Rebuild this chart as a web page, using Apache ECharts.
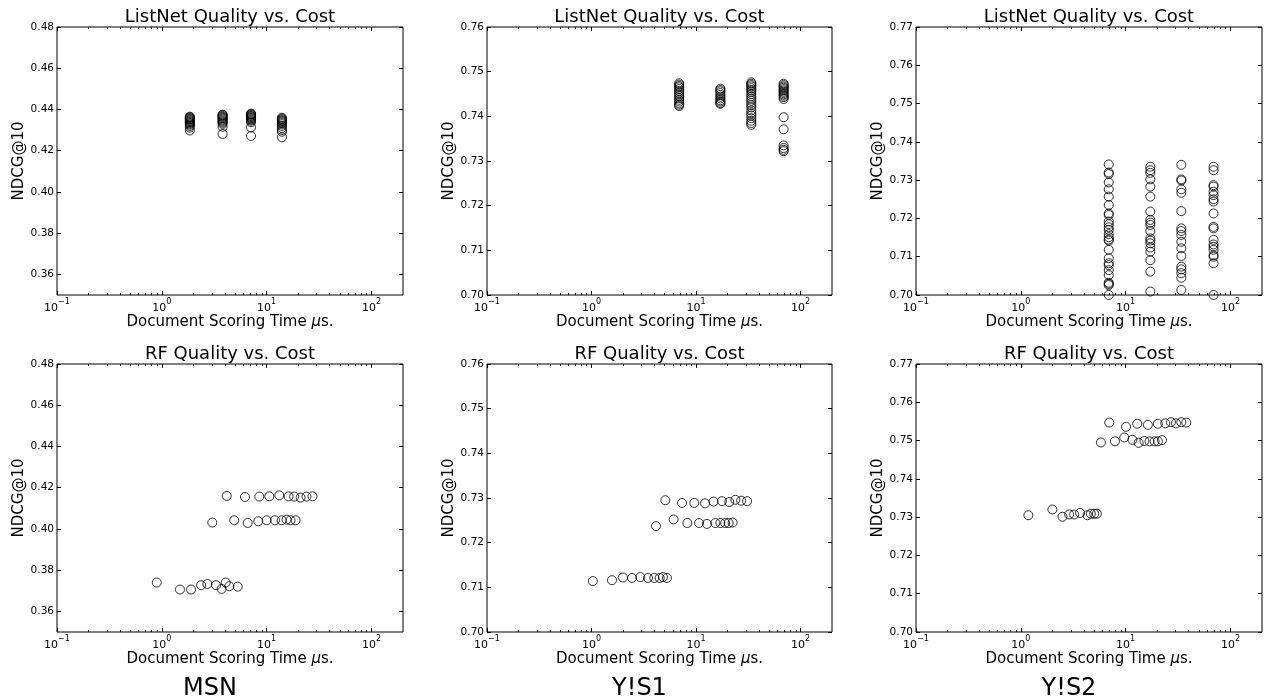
<!DOCTYPE html>
<html>
<head>
<meta charset="utf-8">
<script src="https://cdn.jsdelivr.net/npm/echarts@6/dist/echarts.min.js"></script>
<style>
html, body { margin: 0; padding: 0; background: #fff; }
#main { width: 1266px; height: 700px; }
</style>
</head>
<body>
<div id="main"></div>
<script>
// NDCG@10 against document scoring time (microseconds)

// ListNet: one column of runs per model size
var msnListNetX = [1.85, 3.8, 7.1, 14];
var msnListNetY = [
    [0.4365, 0.4362, 0.4358, 0.4355, 0.4351, 0.4347, 0.4343, 0.4339, 0.4335, 0.4331, 0.4326, 0.4320, 0.4312, 0.4298],
    [0.4375, 0.4372, 0.4368, 0.4364, 0.4360, 0.4356, 0.4351, 0.4346, 0.4341, 0.4336, 0.4330, 0.4316, 0.4281],
    [0.4380, 0.4377, 0.4374, 0.4370, 0.4367, 0.4363, 0.4359, 0.4355, 0.4350, 0.4345, 0.4338, 0.4313, 0.4271],
    [0.4360, 0.4356, 0.4352, 0.4348, 0.4344, 0.4339, 0.4334, 0.4328, 0.4320, 0.4310, 0.4300, 0.4292, 0.4265]
];

var ys1ListNetX = [6.9, 17.1, 33.8, 68.9];
var ys1ListNetY = [
    [0.7474, 0.7471, 0.7468, 0.7465, 0.7461, 0.7457, 0.7453, 0.7449, 0.7445, 0.7441, 0.7437, 0.7433, 0.7429, 0.7426, 0.7423],
    [0.7462, 0.7459, 0.7456, 0.7452, 0.7448, 0.7444, 0.7440, 0.7436, 0.7433, 0.7430, 0.7428],
    [0.7476, 0.7473, 0.7470, 0.7467, 0.7463, 0.7459, 0.7455, 0.7450, 0.7445, 0.7440, 0.7435, 0.7430, 0.7425, 0.7420, 0.7413, 0.7407, 0.7402, 0.7396, 0.7390, 0.7385, 0.7381],
    [0.7473, 0.7470, 0.7467, 0.7464, 0.7461, 0.7458, 0.7455, 0.7452, 0.7449, 0.7446, 0.7443, 0.7439, 0.7398, 0.7371, 0.7335, 0.7329, 0.7325, 0.7322]
];

var ys2ListNetX = [6.9, 17.2, 34, 69];
var ys2ListNetY = [
    [0.7341, 0.7320, 0.7316, 0.7294, 0.7276, 0.7257, 0.7235, 0.7213, 0.7209, 0.7192, 0.7185, 0.7177, 0.7170, 0.7159,
     0.7151, 0.7145, 0.7142, 0.7118, 0.7096, 0.7083, 0.7078, 0.7065, 0.7052, 0.7032, 0.7029, 0.7026, 0.7000],
    [0.7335, 0.7326, 0.7319, 0.7302, 0.7283, 0.7257, 0.7218, 0.7196, 0.7189, 0.7183, 0.7167, 0.7148, 0.7142, 0.7135,
     0.7124, 0.7113, 0.7091, 0.7061, 0.7009],
    [0.7340, 0.7302, 0.7299, 0.7276, 0.7267, 0.7219, 0.7174, 0.7167, 0.7157, 0.7139, 0.7122, 0.7102, 0.7074, 0.7067,
     0.7057, 0.7045, 0.7013],
    [0.7335, 0.7326, 0.7287, 0.7283, 0.7270, 0.7261, 0.7250, 0.7244, 0.7213, 0.7178, 0.7174, 0.7144, 0.7132, 0.7126,
     0.7118, 0.7104, 0.7100, 0.7083, 0.7000]
];

// RF: one point per model
var msnRfX = [4.16, 6.21, 8.51, 10.6, 13.2, 16.2, 18.3, 21.1, 24.0, 27.4,
              3.03, 4.91, 6.59, 8.32, 10.0, 12.0, 13.9, 15.5, 16.9, 18.9,
              0.895, 1.49, 1.90, 2.37, 2.72, 3.29, 3.72, 4.07, 4.41, 5.30];
var msnRfY = [0.4160, 0.4155, 0.4157, 0.4158, 0.4163, 0.4158, 0.4157, 0.4152, 0.4157, 0.4158,
              0.4031, 0.4042, 0.4029, 0.4037, 0.4042, 0.4042, 0.4042, 0.4045, 0.4042, 0.4042,
              0.3740, 0.3706, 0.3706, 0.3727, 0.3733, 0.3727, 0.3709, 0.3740, 0.3722, 0.3720];

var ys1RfX = [5.08, 7.34, 9.63, 12.2, 14.7, 17.7, 20.8, 23.8, 27.0, 30.8,
              4.14, 6.11, 8.26, 10.7, 12.7, 15.3, 17.1, 19.0, 20.5, 22.4,
              1.03, 1.57, 2.0, 2.44, 2.93, 3.47, 3.99, 4.49, 4.83, 5.27];
var ys1RfY = [0.7295, 0.7289, 0.7289, 0.7288, 0.7292, 0.7293, 0.7291, 0.7296, 0.7294, 0.7293,
              0.7237, 0.7252, 0.7244, 0.7244, 0.7242, 0.7244, 0.7244, 0.7244, 0.7244, 0.7245,
              0.7114, 0.7116, 0.7122, 0.7121, 0.7123, 0.7121, 0.7121, 0.7121, 0.7123, 0.7121];

var ys2RfX = [6.97, 10.1, 12.9, 16.3, 20.3, 23.9, 27.1, 30.2, 34.0, 37.9,
              5.81, 7.91, 9.70, 11.6, 13.3, 15.1, 16.9, 18.9, 20.3, 22.2,
              1.18, 2.0, 2.50, 2.89, 3.23, 3.68, 4.33, 4.66, 5.01, 5.32];
var ys2RfY = [0.7547, 0.7536, 0.7544, 0.7541, 0.7544, 0.7545, 0.7548, 0.7545, 0.7548, 0.7547,
              0.7495, 0.7498, 0.7508, 0.7502, 0.7494, 0.7499, 0.7498, 0.7498, 0.7498, 0.7501,
              0.7305, 0.7320, 0.7301, 0.7307, 0.7307, 0.7311, 0.7305, 0.7309, 0.7309, 0.7309];

var datasetNames = ['MSN', 'Y!S1', 'Y!S2'];
var rowTitles = ['ListNet Quality vs. Cost', 'RF Quality vs. Cost'];

var xRange = [0.1, 200];
var xMajorTicks = [0.1, 1, 10, 100];
var xMinorTicks = [0.2, 0.3, 0.4, 0.5, 0.6, 0.7, 0.8, 0.9,
                   2, 3, 4, 5, 6, 7, 8, 9,
                   20, 30, 40, 50, 60, 70, 80, 90];
var yRanges = [[0.35, 0.48], [0.70, 0.76], [0.70, 0.77]];
var yTicks = [
    [0.36, 0.38, 0.40, 0.42, 0.44, 0.46, 0.48],
    [0.70, 0.71, 0.72, 0.73, 0.74, 0.75, 0.76],
    [0.70, 0.71, 0.72, 0.73, 0.74, 0.75, 0.76, 0.77]
];

// layout
var FONT = 'DejaVu Sans';
var gridLeft = [57, 487, 916];
var gridWidth = [346, 345, 346];
var gridTop = [27, 364];
var gridHeight = 268;

function columnsToPoints(xs, cols) {
    var pts = [];
    xs.forEach(function (x, i) {
        cols[i].forEach(function (y) { pts.push([x, y]); });
    });
    return pts;
}

function pairsToPoints(xs, ys) {
    return xs.map(function (x, i) { return [x, ys[i]]; });
}

var panelData = [
    [columnsToPoints(msnListNetX, msnListNetY), columnsToPoints(ys1ListNetX, ys1ListNetY), columnsToPoints(ys2ListNetX, ys2ListNetY)],
    [pairsToPoints(msnRfX, msnRfY), pairsToPoints(ys1RfX, ys1RfY), pairsToPoints(ys2RfX, ys2RfY)]
];

function powerLabel(v) {
    var e = Math.round(Math.log(v) / Math.LN10);
    return '{b|10}{s|' + (e < 0 ? '\u2212' + (-e) : e) + '}';
}

function logAxis(g, pos, ticks, len, withLabels) {
    return {
        type: 'log',
        logBase: 10,
        gridIndex: g,
        position: pos,
        min: xRange[0],
        max: xRange[1],
        axisLine: { show: false },
        splitLine: { show: false },
        axisTick: {
            show: true, inside: true, length: len, customValues: ticks,
            lineStyle: { color: '#000', width: 1 }
        },
        axisLabel: withLabels ? {
            show: true,
            customValues: ticks,
            margin: 3,
            formatter: powerLabel,
            rich: {
                b: { fontFamily: FONT, fontSize: 11, color: '#000', lineHeight: 16, verticalAlign: 'bottom' },
                s: { fontFamily: FONT, fontSize: 8, color: '#000', lineHeight: 8, verticalAlign: 'top' }
            }
        } : { show: false },
        name: withLabels ? 'Document Scoring Time {i|\u03bc}s.' : '',
        nameLocation: 'middle',
        nameGap: 18,
        nameTextStyle: {
            fontFamily: FONT, fontSize: 15, color: '#000',
            rich: { i: { fontFamily: FONT, fontSize: 15, fontStyle: 'italic', color: '#000' } }
        }
    };
}

function valueAxis(g, pos, c, withLabels) {
    return {
        type: 'value',
        gridIndex: g,
        position: pos,
        min: yRanges[c][0],
        max: yRanges[c][1],
        axisLine: { show: false },
        splitLine: { show: false },
        axisTick: {
            show: true, inside: true, length: 4, customValues: yTicks[c],
            lineStyle: { color: '#000', width: 1 }
        },
        axisLabel: withLabels ? {
            show: true,
            customValues: yTicks[c],
            margin: 3,
            fontFamily: FONT,
            fontSize: 10.5,
            color: '#000',
            formatter: function (v) { return v.toFixed(2); }
        } : { show: false },
        name: withLabels ? 'NDCG@10' : '',
        nameLocation: 'middle',
        nameGap: 29,
        nameTextStyle: { fontFamily: FONT, fontSize: 15, color: '#000' }
    };
}

var grids = [], xAxes = [], yAxes = [], series = [], titles = [];

for (var r = 0; r < 2; r++) {
    for (var c = 0; c < 3; c++) {
        var g = grids.length;
        grids.push({
            left: gridLeft[c], top: gridTop[r], width: gridWidth[c], height: gridHeight,
            show: true, borderColor: '#000', borderWidth: 1, backgroundColor: '#fff'
        });
        xAxes.push(logAxis(g, 'bottom', xMajorTicks, 4, true));
        xAxes.push(logAxis(g, 'bottom', xMinorTicks, 2, false));
        xAxes.push(logAxis(g, 'top', xMajorTicks, 4, false));
        xAxes.push(logAxis(g, 'top', xMinorTicks, 2, false));
        yAxes.push(valueAxis(g, 'left', c, true));
        yAxes.push(valueAxis(g, 'right', c, false));
        series.push({
            type: 'scatter',
            xAxisIndex: 4 * g,
            yAxisIndex: 2 * g,
            data: panelData[r][c],
            symbol: 'circle',
            symbolSize: 9,
            clip: false,
            silent: true,
            itemStyle: { color: 'rgba(0,0,0,0)', borderColor: '#000', borderWidth: 1 }
        });
        titles.push({
            text: rowTitles[r],
            left: gridLeft[c] + gridWidth[c] / 2,
            top: r === 0 ? 17 : 354,
            textAlign: 'center',
            textVerticalAlign: 'middle',
            padding: 0,
            textStyle: { fontFamily: FONT, fontSize: 18, fontWeight: 'normal', color: '#000' }
        });
    }
}

datasetNames.forEach(function (name, c) {
    titles.push({
        text: name,
        left: gridLeft[c] + gridWidth[c] / 2 - 20,
        top: 689,
        textAlign: 'center',
        textVerticalAlign: 'middle',
        padding: 0,
        textStyle: { fontFamily: FONT, fontSize: 24, fontWeight: 'normal', color: '#000' }
    });
});

var myChart = echarts.init(document.getElementById('main'), null, { renderer: 'canvas' });
var option = {
    animation: false,
    backgroundColor: '#fff',
    title: titles,
    grid: grids,
    xAxis: xAxes,
    yAxis: yAxes,
    series: series
};

myChart.setOption(option);
window.onresize = myChart.resize;
</script>
</body>
</html>
